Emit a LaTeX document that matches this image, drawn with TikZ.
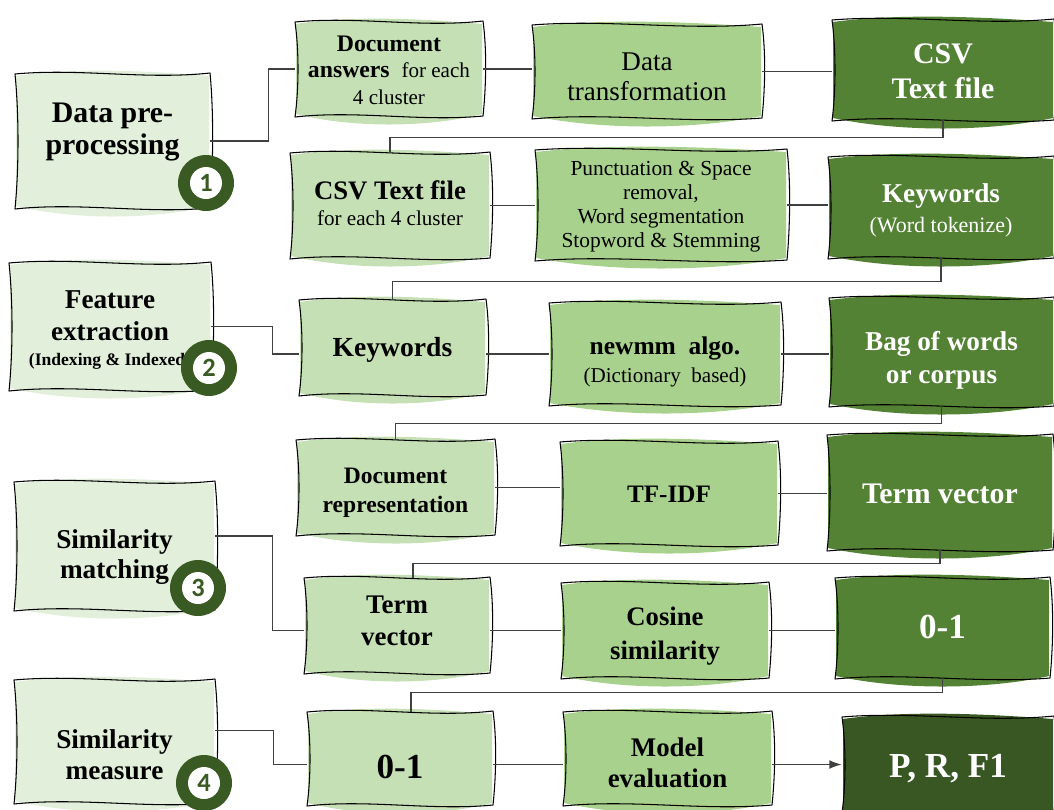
\documentclass[tikz,border=0pt]{standalone}
\usepackage{fontspec}
\setmainfont{Liberation Serif}
\newfontfamily\numfont{Carlito}
\usetikzlibrary{arrows.meta,calc}

\definecolor{cpale}{HTML}{E2EFDA}
\definecolor{clight}{HTML}{C5E0B4}
\definecolor{cmed}{HTML}{A9D18E}
\definecolor{cdark}{HTML}{548235}
\definecolor{cdarker}{HTML}{385723}
\definecolor{ccirc}{HTML}{3A5A23}
\definecolor{connc}{HTML}{404040}

\newcommand\fs[2]{\fontsize{#1}{#2}\selectfont}

\tikzset{
  outline/.style={draw=black, line width=0.6pt, line join=round},
  conn/.style={draw=connc, line width=0.75pt},
  boxnode/.style={rectangle, inner sep=0pt, draw=none},
  boxtext/.style={align=center, inner sep=0pt, text=black},
  numdisc/.style={circle, fill=ccirc, minimum size=1.12cm, inner sep=0pt},
  numface/.style={circle, fill=white, minimum size=0.64cm, inner sep=0pt,
    text=ccirc, font=\numfont\bfseries\fs{15}{15}},
}

% hand-drawn box: name, x1, y1, x2, y2, fill colour, text y, text options, text
\newcommand\sketchbox[9]{%
  \fill[#6] ({#2+1},{#3+2}) .. controls ({#2+0.3*(#4-#2)},{#3-7}) and ({#2+0.7*(#4-#2)},{#3-3}) .. ({#4-1},{#3+2})
     -- ({#4-1},{#5-2}) .. controls ({#4-0.3*(#4-#2)},{#5+12}) and ({#2+0.3*(#4-#2)},{#5+12}) .. ({#2+1},{#5-2}) -- cycle;
  \draw[outline] (#2,#3) .. controls ({#2+0.33*(#4-#2)},{#3-6}) and ({#2+0.67*(#4-#2)},{#3+6}) .. (#4,{#3-1})
     .. controls ({#4+4},{#3+0.3*(#5-#3)}) and ({#4+3},{#5-0.3*(#5-#3)}) .. (#4,#5)
     .. controls ({#4-0.33*(#4-#2)},{#5+6}) and ({#2+0.33*(#4-#2)},{#5-6}) .. (#2,{#5+1})
     .. controls ({#2+4},{#5-0.3*(#5-#3)}) and ({#2+4},{#3+0.3*(#5-#3)}) .. (#2,#3) -- cycle;
  \node[boxnode, minimum width={(#4-#2)*0.02cm}, minimum height={(#5-#3)*0.02cm}] (#1) at ({(#2+#4)/2},{(#3+#5)/2}) {};
  \node[boxtext, #8] (#1-text) at ({(#2+#4)/2},#7) {#9};
}

\begin{document}
\begin{tikzpicture}[x=0.02cm, y=-0.02cm]
\useasboundingbox (0,0) rectangle (1054,809);

% stage boxes
\sketchbox{dp}{15}{74}{210}{208}{cpale}{132}{font=\fs{17}{18}\bfseries}{Data pre-\\processing}
\sketchbox{fe}{9}{263}{211}{390}{cpale}{330}{font=\fs{15.5}{18}}{\textbf{Feature}\\\textbf{extraction}\\[-4pt]{\fs{10}{12}\textbf{(Indexing \& Indexed)}}}
\sketchbox{sm}{14}{482}{215}{610}{cpale}{557}{font=\fs{15.5}{17}}{\textbf{Similarity}\\\textbf{matching}}
\sketchbox{sme}{14}{680}{215}{803}{cpale}{755}{font=\fs{15.5}{17.6}}{\textbf{Similarity}\\\textbf{measure}}

% row 1
\sketchbox{da}{295}{22}{483}{116}{clight}{70}{font=\fs{13.5}{15}}{\textbf{Document}\\\textbf{answers}\enspace{\fs{12}{15}for each}\\{\fs{12}{13.5}4 cluster}}
\sketchbox{dt}{532}{25}{762}{118}{cmed}{77}{font=\fs{15.4}{17}}{Data\\transformation}
\sketchbox{csv}{832}{20}{1054}{120}{cdark}{71}{font=\fs{17}{20}, text=white}{\textbf{CSV}\\\textbf{Text file}}

% row 2
\sketchbox{csv2}{290}{153}{490}{258}{clight}{203}{font=\fs{15.2}{14.5}}{\textbf{CSV Text file}\\{\fs{12}{14.5}for each 4 cluster}}
\sketchbox{pr}{535}{150}{787}{260}{cmed}{207}{font=\fs{12.2}{13.6}}{Punctuation \& Space\\removal,\\Word segmentation\\Stopword \& Stemming}
\sketchbox{kw}{828}{157}{1054}{258}{cdark}{210}{font=\fs{15.5}{17}, text=white}{\textbf{Keywords}\\{\fs{12.5}{17}(Word tokenize)}}

% row 3
\sketchbox{kw2}{299}{300}{486}{395}{clight}{350}{font=\fs{15.7}{18}}{\textbf{Keywords}}
\sketchbox{nm}{549}{303}{781}{405}{cmed}{362}{font=\fs{14.5}{16}}{\textbf{newmm\ \ algo.}\\{\fs{12}{16}(Dictionary\ \ based)}}
\sketchbox{bag}{829}{298}{1054}{406}{cdark}{360}{font=\fs{15.5}{18.7}, text=white}{\textbf{Bag of words}\\\textbf{or corpus}}

% row 4
\sketchbox{dr}{296}{440}{495}{535}{clight}{493}{font=\fs{13.4}{16.4}}{\textbf{Document}\\\textbf{representation}}
\sketchbox{tf}{560}{442}{778}{545}{cmed}{494}{font=\fs{14.3}{16}}{\textbf{TF-IDF}}
\sketchbox{tv}{827}{435}{1053}{550}{cdark}{494}{font=\fs{17}{18}, text=white}{\textbf{Term vector}}

% row 5
\sketchbox{tv2}{304}{578}{490}{673}{clight}{621}{font=\fs{15.3}{18}}{\textbf{Term}\\\textbf{vector}}
\sketchbox{cs}{561}{583}{769}{678}{cmed}{636}{font=\fs{15.2}{19}}{\textbf{Cosine}\\\textbf{similarity}}
\sketchbox{zo}{835}{578}{1050}{678}{cdark}{627}{font=\fs{20}{20}, text=white}{\textbf{0-1}}

% row 6
\sketchbox{zo2}{307}{712}{493}{805}{clight}{767}{font=\fs{20}{20}}{\textbf{0-1}}
\sketchbox{me}{563}{712}{772}{805}{cmed}{763}{font=\fs{15.3}{18}}{\textbf{Model}\\\textbf{evaluation}}
\sketchbox{prf}{842}{717}{1054}{812}{cdarker}{769}{font=\fs{20}{20}, text=white}{\textbf{P, R, F1}}

% connectors
\draw[conn] (dp.east) -- ++(58,0) |- (da.west);
\draw[conn] (da.east) -- (da.east -| dt.west);
\draw[conn] (dt.east) -- (dt.east -| csv.west);
\draw[conn] (csv.south) -- ++(0,17) -| (csv2.north);
\draw[conn] (csv2.east) -- (csv2.east -| pr.west);
\draw[conn] (pr.east) -- (pr.east -| kw.west);
\draw[conn] (kw.south) -- ++(0,23) -| (kw2.north);
\draw[conn] (fe.east) -- ++(61,0) |- (kw2.west |- nm.west);
\draw[conn] (kw2.east |- nm.west) -- (nm.west);
\draw[conn] (nm.east) -- (nm.east -| bag.west);
\draw[conn] (bag.south) -- ++(0,17) -| (dr.north);
\draw[conn] (dr.east) -- (dr.east -| tf.west);
\draw[conn] (tf.east) -- (tf.east -| tv.west);
\draw[conn] (tv.south) -- ++(0,13) -| ($(tv2.north)+(16,0)$);
\draw[conn] ($(sm.east)+(0,-10)$) -- ++(57,0) |- (tv2.west |- cs.west);
\draw[conn] (tv2.east |- cs.west) -- (cs.west);
\draw[conn] (cs.east) -- (cs.east -| zo.west);
\draw[conn] (zo.south) -- ++(0,14) -| ($(zo2.north)+(11,0)$);
\draw[conn] ($(sme.east)+(0,-11)$) -- ++(58,0) |- (zo2.west |- prf.west);
\draw[conn] (zo2.east |- prf.west) -- (me.west |- prf.west);
\draw[conn, -{Latex[length=7pt,width=5pt]}] (me.east |- prf.west) -- (prf.west);

% stage numbers
\node[numdisc] (n1) at (206,183) {};
\node[numface] (n1-num) at (n1) {1};
\node[numdisc] (n2) at (209,368) {};
\node[numface] (n2-num) at (n2) {2};
\node[numdisc] (n3) at (198,588) {};
\node[numface] (n3-num) at (n3) {3};
\node[numdisc] (n4) at (204,783) {};
\node[numface] (n4-num) at (n4) {4};
\end{tikzpicture}
\end{document}
